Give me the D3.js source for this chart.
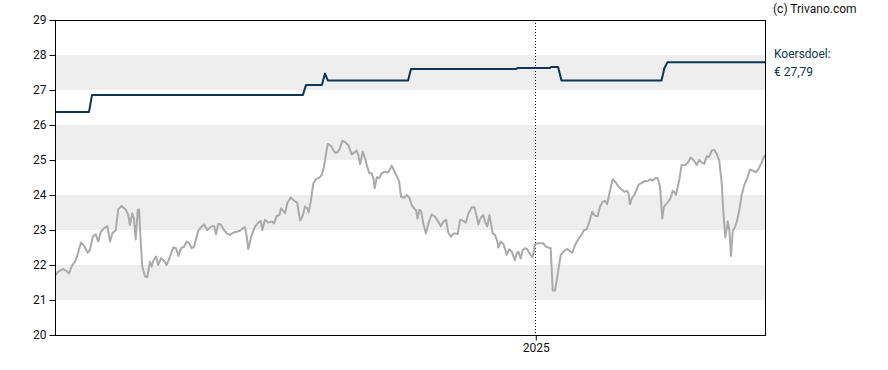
<!DOCTYPE html>
<html>
<head>
<meta charset="utf-8">
<script src="https://cdn.jsdelivr.net/npm/d3@7"></script>
<style>
  body { margin: 0; background: #fff; font-family: Roboto, sans-serif; }
  svg text { font-family: Roboto, sans-serif; }
</style>
</head>
<body>
<svg id="chart"></svg>
<script>
// day offsets are counted from startDate
const startDate = new Date(2024, 3, 23);
const endDay = 374;
const yearTicks = [new Date(2025, 0, 1)];
const yTicks = [20, 21, 22, 23, 24, 25, 26, 27, 28, 29];
const bandStarts = [21, 23, 25, 27];

const priceDay = [0, 1.7, 4.1, 5.8, 7.4, 8.8, 10.5, 11.7, 13.7, 15.4, 17.2, 18.4, 19.9, 21.4, 22.8, 24.1, 26.3, 27.6, 29.0, 30.2,
  32.0, 33.3, 35.1, 37.4, 38.6, 39.5, 40.7, 41.6, 42.5, 43.6, 44.3, 45.1, 46.0, 47.4, 48.6, 50.0, 50.9, 51.8, 53.2, 54.4,
  55.8, 57.1, 58.8, 60.6, 62.3, 63.7, 65.0, 66.4, 68.0, 69.4, 70.7, 72.0, 73.2, 75.5, 77.3, 78.6, 80.2, 82.5, 83.9, 84.8,
  86.0, 87.3, 89.0, 90.8, 92.2, 93.9, 95.7, 97.5, 98.9, 100.1, 101.0, 101.8, 103.6, 105.4, 107.1, 108.4, 109.2, 110.6, 112.4, 114.2,
  115.4, 116.8, 118.2, 119.1, 121.2, 122.4, 124.2, 125.9, 127.6, 129.1, 130.5, 131.7, 132.9, 133.6, 134.7, 136.1, 137.5, 139.1, 140.5, 141.7,
  142.8, 143.7, 145.2, 147.5, 148.9, 150.1, 151.3, 152.8, 154.5, 156.3, 157.5, 158.9, 159.8, 160.7, 162.1, 163.3, 164.5, 165.6, 166.8, 167.7,
  168.4, 169.5, 170.7, 172.1, 173.8, 175.1, 175.9, 177.4, 178.6, 180.0, 181.2, 182.3, 183.9, 185.3, 186.6, 187.9, 189.6, 190.2, 190.9, 191.9,
  192.8, 194.0, 195.4, 197.0, 198.4, 200.2, 201.9, 203.2, 204.6, 206.0, 207.2, 208.6, 209.8, 211.2, 212.1, 213.4, 214.8, 216.4, 217.7, 219.5,
  220.9, 222.1, 223.0, 224.3, 225.6, 226.5, 227.7, 228.8, 229.7, 230.6, 231.8, 233.0, 233.5, 234.8, 236.2, 237.1, 237.9, 239.2, 240.6, 241.4,
  242.3, 243.2, 244.1, 245.3, 246.4, 247.6, 248.8, 250.2, 251.6, 252.9, 254.6, 257.2, 258.7, 259.9, 261.1, 262.2, 263.4, 264.6, 266.4, 267.8,
  269.6, 270.9, 272.5, 273.9, 275.7, 277.5, 278.7, 280.1, 281.5, 283.0, 284.5, 285.9, 287.1, 288.5, 289.7, 290.9, 292.4, 293.8, 295.5, 296.8,
  298.5, 299.9, 301.2, 302.0, 302.9, 303.8, 305.5, 307.3, 309.1, 310.8, 312.5, 313.8, 314.8, 316.1, 317.5, 318.7, 319.9, 320.8, 322.6, 324.0,
  325.4, 326.1, 327.1, 328.9, 330.1, 331.9, 333.3, 334.9, 336.6, 338.0, 339.4, 340.8, 342.0, 343.3, 344.5, 345.9, 347.2, 348.6, 349.9, 351.2,
  352.0, 353.1, 354.4, 355.2, 356.1, 357.0, 358.2, 359.4, 360.5, 361.7, 363.1, 364.7, 366.1, 367.5, 369.3, 370.4, 371.9, 373.6, 374.0];

const priceValue = [21.69, 21.81, 21.88, 21.84, 21.76, 21.97, 22.09, 22.26, 22.64, 22.54, 22.35, 22.43, 22.81, 22.88, 22.67, 22.95, 23.07, 23.11, 22.67, 22.91,
  23.00, 23.59, 23.69, 23.57, 23.43, 23.14, 23.48, 23.33, 22.73, 23.57, 23.59, 22.71, 21.95, 21.67, 21.65, 22.09, 21.95, 22.12, 22.24, 22.00,
  22.19, 22.14, 22.00, 22.24, 22.50, 22.48, 22.26, 22.48, 22.52, 22.67, 22.62, 22.48, 22.52, 22.98, 23.10, 23.16, 23.00, 23.11, 23.11, 22.88,
  23.17, 23.16, 23.00, 22.89, 22.86, 22.93, 22.95, 22.98, 23.05, 23.08, 22.81, 22.46, 22.86, 23.10, 23.21, 23.26, 23.00, 23.29, 23.21, 23.24,
  23.19, 23.40, 23.43, 23.62, 23.48, 23.78, 23.93, 23.84, 23.78, 23.27, 23.40, 23.67, 23.62, 23.50, 23.81, 24.33, 24.46, 24.49, 24.57, 24.81,
  25.19, 25.46, 25.41, 25.21, 25.22, 25.33, 25.55, 25.51, 25.43, 25.16, 25.21, 25.27, 25.14, 24.88, 25.24, 25.05, 24.81, 24.62, 24.62, 24.48,
  24.19, 24.51, 24.48, 24.62, 24.67, 24.64, 24.67, 24.84, 24.70, 24.54, 24.41, 23.95, 23.92, 24.00, 23.93, 23.71, 23.59, 23.57, 23.33, 23.57,
  23.55, 23.19, 22.90, 23.24, 23.45, 23.38, 23.24, 23.11, 23.24, 23.29, 22.92, 22.81, 22.90, 22.90, 22.88, 23.29, 23.27, 23.21, 23.46, 23.65,
  23.65, 23.40, 23.16, 23.35, 23.43, 23.24, 23.10, 23.43, 23.19, 22.90, 22.86, 22.67, 22.50, 22.67, 22.60, 22.45, 22.29, 22.45, 22.38, 22.26,
  22.14, 22.33, 22.38, 22.19, 22.43, 22.48, 22.45, 22.31, 22.22, 22.60, 22.62, 22.62, 22.52, 22.50, 22.48, 21.27, 21.27, 21.67, 22.29, 22.38,
  22.46, 22.41, 22.35, 22.57, 22.74, 22.88, 23.00, 23.02, 23.24, 23.52, 23.40, 23.40, 23.67, 23.81, 23.83, 23.74, 24.14, 24.45, 24.35, 24.24,
  24.16, 24.09, 24.12, 24.07, 23.74, 23.90, 24.03, 24.29, 24.35, 24.40, 24.41, 24.45, 24.41, 24.48, 24.48, 24.24, 23.33, 23.67, 23.78, 23.88,
  24.12, 24.09, 24.00, 24.45, 24.86, 24.86, 24.92, 25.07, 24.98, 24.86, 25.00, 24.92, 24.89, 25.11, 25.08, 25.27, 25.29, 25.17, 24.98, 24.33,
  23.57, 22.79, 23.24, 23.00, 22.26, 22.98, 23.08, 23.29, 23.57, 24.00, 24.29, 24.49, 24.73, 24.70, 24.65, 24.73, 24.89, 25.11, 25.15];

const targetDay = [0, 17.9, 19.5, 130.6, 132.2, 140.6, 142.2, 143.8, 186.0, 187.5, 242.8, 243.9, 260.8, 261.3, 265.0, 266.8, 319.5, 321.0, 322.6, 374];
const targetValue = [26.37, 26.37, 26.86, 26.86, 27.14, 27.14, 27.47, 27.27, 27.27, 27.60, 27.60, 27.63, 27.63, 27.66, 27.66, 27.27, 27.27, 27.62, 27.79, 27.79];

const targetLabel = "Koersdoel:";
const targetText = "€ 27,79";
const credit = "(c) Trivano.com";

const margin = {top: 20, right: 123, bottom: 35, left: 55};
const W = 888, H = 370;
const width = W - margin.left - margin.right;
const height = H - margin.top - margin.bottom;

const dayToDate = d => new Date(startDate.getTime() + d * 86400000);
const prices = priceDay.map((d, i) => ({date: dayToDate(d), v: priceValue[i]}));
const targets = targetDay.map((d, i) => ({date: dayToDate(d), v: targetValue[i]}));

const svgElem = d3.select("#chart").attr("width", W).attr("height", H);
const svg = svgElem.append("g").attr("transform", `translate(${margin.left},${margin.top})`);

const xScale = d3.scaleTime().domain([startDate, dayToDate(endDay)]).range([0, width]);
const yScale = d3.scaleLinear().domain([20, 29]).range([height, 0]);

// grey bands
svg.selectAll("rect.band")
  .data(bandStarts)
  .enter().append("rect")
  .attr("class", "band")
  .attr("x", 0)
  .attr("width", width)
  .attr("y", d => yScale(d + 1))
  .attr("height", d => yScale(d) - yScale(d + 1))
  .attr("fill", "#eeeeee");

// year separator
svg.selectAll("line.year")
  .data(yearTicks)
  .enter().append("line")
  .attr("class", "year")
  .attr("x1", d => Math.round(xScale(d)) + 0.5)
  .attr("x2", d => Math.round(xScale(d)) + 0.5)
  .attr("y1", 0)
  .attr("y2", height)
  .attr("stroke", "#000")
  .attr("stroke-width", 1)
  .attr("stroke-dasharray", "1,2");

const line = d3.line().x(d => xScale(d.date)).y(d => yScale(d.v));

svg.append("path")
  .datum(prices)
  .attr("d", line)
  .attr("fill", "none")
  .attr("stroke", "#aaaaaa")
  .attr("stroke-width", 2)
  .attr("stroke-linejoin", "round");

svg.append("path")
  .datum(targets)
  .attr("d", line)
  .attr("fill", "none")
  .attr("stroke", "#0c3655")
  .attr("stroke-width", 2)
  .attr("stroke-linejoin", "round");

// frame
svg.append("rect")
  .attr("x", 0.5).attr("y", 0.5)
  .attr("width", width).attr("height", height)
  .attr("fill", "none")
  .attr("stroke", "#000")
  .attr("stroke-width", 1);

const yAxis = d3.axisLeft(yScale).tickValues(yTicks).tickSize(6).tickPadding(3).tickFormat(d3.format("d"));
const yG = svg.append("g").attr("transform", "translate(0.5,0)").call(yAxis);
yG.select(".domain").remove();
yG.selectAll("text").style("font-size", "12px").attr("fill", "#111");
yG.selectAll("line").attr("stroke", "#000");

const xAxis = d3.axisBottom(xScale).tickValues(yearTicks).tickSize(5).tickPadding(3).tickFormat(d3.timeFormat("%Y"));
const xG = svg.append("g").attr("transform", `translate(0.5,${height + 0.5})`).call(xAxis);
xG.select(".domain").remove();
xG.selectAll("text").style("font-size", "12px").attr("fill", "#111");
xG.selectAll("line").attr("stroke", "#000");

// labels on the right
svgElem.append("text")
  .attr("x", 773).attr("y", 13)
  .style("font-size", "12px")
  .attr("fill", "#111")
  .text(credit);

svgElem.append("text")
  .attr("x", 774).attr("y", 58)
  .style("font-size", "12px")
  .attr("fill", "#0c3655")
  .text(targetLabel);

svgElem.append("text")
  .attr("x", 774).attr("y", 76)
  .style("font-size", "12px")
  .attr("fill", "#0c3655")
  .text(targetText);
</script>
</body>
</html>
